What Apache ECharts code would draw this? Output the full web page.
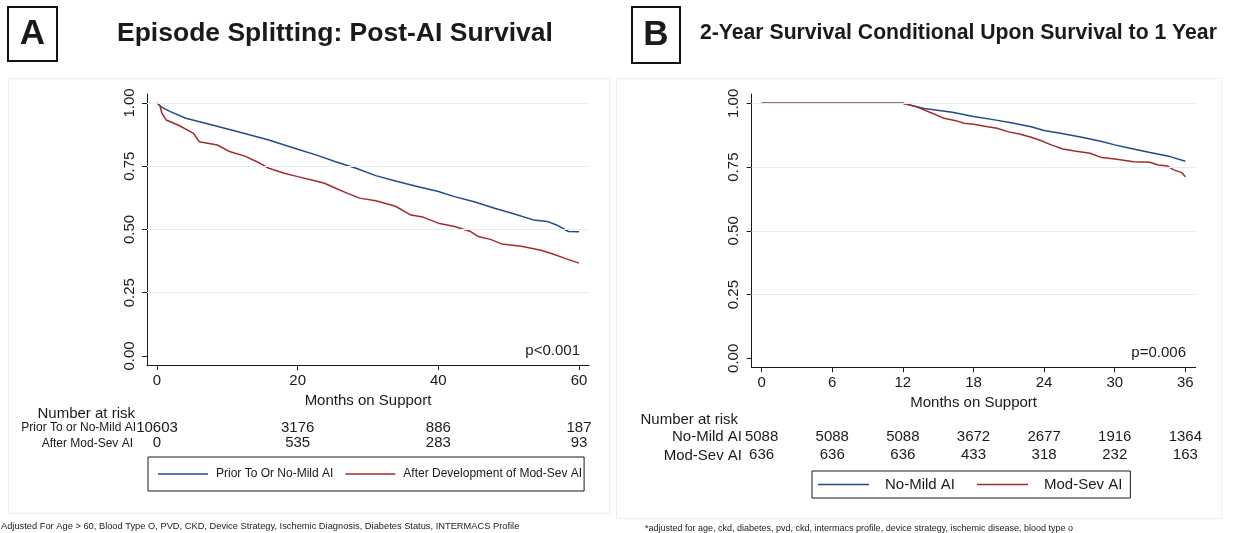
<!DOCTYPE html>
<html>
<head>
<meta charset="utf-8">
<title>AI Survival</title>
<script src="https://cdn.jsdelivr.net/npm/echarts@6/dist/echarts.min.js"></script>
<style>
  html, body { margin: 0; padding: 0; background: #ffffff; }
  #chart { width: 1236px; height: 533px; }
</style>
</head>
<body>
<div id="chart"></div>
<script>
// ---- Panel A: episode splitting, post-AI survival (months 0-60) ----
const monthsA_prior = [0, 0.7, 1.9, 4.1, 6.9, 11.4, 15.9, 20, 22.6, 25.4, 28.3, 31.1, 33.9, 36.7, 40, 42.3, 45.1, 48, 50.7, 53.5, 55.5, 56.8, 58.5, 60];
const survA_prior  = [1.00, 0.983, 0.966, 0.94, 0.92, 0.887, 0.854, 0.817, 0.795, 0.768, 0.742, 0.713, 0.692, 0.672, 0.65, 0.63, 0.61, 0.584, 0.562, 0.538, 0.532, 0.518, 0.492, 0.491];

const monthsA_after = [0, 0.4, 0.7, 1.3, 3, 5.2, 6, 8.6, 10.3, 12.5, 14.2, 15.9, 18.1, 20, 22, 23.8, 25.4, 27.1, 28.8, 31.1, 33.9, 36.1, 37.8, 40, 42.3, 44.6, 45.7, 47.4, 49, 51.8, 54.6, 56.3, 58, 60];
const survA_after  = [1.00, 0.99, 0.96, 0.933, 0.913, 0.88, 0.847, 0.834, 0.808, 0.79, 0.768, 0.742, 0.722, 0.709, 0.696, 0.683, 0.663, 0.643, 0.624, 0.614, 0.592, 0.557, 0.549, 0.525, 0.512, 0.492, 0.472, 0.461, 0.443, 0.434, 0.418, 0.403, 0.386, 0.367];

const ticksA = [0, 20, 40, 60];
const riskA_prior = [10603, 3176, 886, 187];
const riskA_after = [0, 535, 283, 93];

// ---- Panel B: 2-year survival conditional on surviving 1 year (months 0-36) ----
const monthsB_noMild = [0, 12, 13.8, 16.2, 18, 19.8, 21.2, 22.9, 24, 25.5, 27.2, 28.9, 30, 31.3, 33, 34.7, 36];
const survB_noMild   = [1.00, 1.00, 0.98, 0.965, 0.948, 0.935, 0.924, 0.908, 0.893, 0.882, 0.867, 0.85, 0.837, 0.824, 0.807, 0.791, 0.773];

const monthsB_modSev = [0, 12, 13.1, 14.5, 15.5, 16.5, 17.2, 18, 19.2, 20, 20.9, 21.9, 22.9, 23.6, 24.6, 25.6, 26.6, 27.9, 28.9, 30, 30.6, 31.6, 33, 33.7, 34.5, 35, 35.7, 36];
const survB_modSev   = [1.00, 1.00, 0.987, 0.961, 0.941, 0.932, 0.922, 0.918, 0.908, 0.902, 0.889, 0.88, 0.867, 0.856, 0.837, 0.821, 0.813, 0.804, 0.787, 0.782, 0.778, 0.771, 0.769, 0.758, 0.754, 0.739, 0.728, 0.712];

const ticksB = [0, 6, 12, 18, 24, 30, 36];
const riskB_noMild = [5088, 5088, 5088, 3672, 2677, 1916, 1364];
const riskB_modSev = [636, 636, 636, 433, 318, 232, 163];

const yTicks = [0, 0.25, 0.5, 0.75, 1.0];
const gridValues = [0.25, 0.5, 0.75, 1.0];

const FONT = '"Liberation Sans", Arial, Helvetica, sans-serif';
const BLUE = '#1f4c88';
const RED = '#a32a30';
const INK = '#1a1a1a';
const GRID_COLOR = '#e2eef2';

const pairs = (xs, ys) => xs.map((x, i) => [x, ys[i]]);

function mainX(grid, min, max, ticks) {
  return {
    gridIndex: grid, type: 'value', min: min, max: max,
    axisLine: { show: true, onZero: false, lineStyle: { color: INK, width: 1 } },
    axisTick: { show: true, length: 5, customValues: ticks, lineStyle: { color: INK } },
    axisLabel: { customValues: ticks, margin: 8, fontSize: 15, color: INK, fontFamily: FONT },
    splitLine: { show: false },
    name: 'Months on Support', nameLocation: 'middle', nameGap: 25,
    nameTextStyle: { fontSize: 15, color: INK, fontFamily: FONT }
  };
}

function riskRow(grid, min, max, ticks, counts, offset) {
  return {
    gridIndex: grid, type: 'value', min: min, max: max, position: 'bottom', offset: offset,
    axisLine: { show: false }, axisTick: { show: false }, splitLine: { show: false },
    axisLabel: {
      customValues: ticks, margin: 0, fontSize: 15, color: INK, fontFamily: FONT,
      formatter: (v) => String(counts[ticks.indexOf(v)])
    }
  };
}

function survY(grid, min, max) {
  return {
    gridIndex: grid, type: 'value', min: min, max: max,
    axisLine: { show: true, onZero: false, lineStyle: { color: INK, width: 1 } },
    axisTick: { show: true, length: 5, customValues: yTicks, lineStyle: { color: INK } },
    axisLabel: {
      customValues: yTicks, rotate: 90, margin: 10, fontSize: 15, color: INK, fontFamily: FONT,
      formatter: (v) => v.toFixed(2)
    },
    splitLine: { show: false }
  };
}

function gridLines(xi, yi) {
  return {
    type: 'line', xAxisIndex: xi, yAxisIndex: yi, data: [], z: 1, silent: true,
    markLine: {
      silent: true, symbol: 'none', label: { show: false },
      lineStyle: { color: GRID_COLOR, type: 'solid', width: 1 },
      data: gridValues.map(v => ({ yAxis: v }))
    }
  };
}

function curve(name, xi, yi, xs, ys, color) {
  return {
    name: name, type: 'line', xAxisIndex: xi, yAxisIndex: yi, data: pairs(xs, ys),
    showSymbol: false, symbol: 'none', z: 3,
    lineStyle: { color: color, width: 1.5 }, itemStyle: { color: color }
  };
}

function text(x, y, str, size, opts) {
  return Object.assign({
    type: 'text', x: x, y: y,
    style: Object.assign({ text: str, fontSize: size, fontFamily: FONT, fill: INK,
      align: 'left', verticalAlign: 'middle' }, (opts && opts.style) || {})
  }, opts && opts.el ? opts.el : {});
}

const chart = echarts.init(document.getElementById('chart'), null, { renderer: 'canvas' });

chart.setOption({
  animation: false,
  backgroundColor: '#ffffff',
  textStyle: { fontFamily: FONT },
  grid: [
    { left: 147, top: 94, width: 442, height: 271 },
    { left: 751.6, top: 94, width: 444, height: 273.3 }
  ],
  xAxis: [
    mainX(0, -1.42, 61.42, ticksA),
    riskRow(0, -1.42, 61.42, ticksA, riskA_prior, 55),
    riskRow(0, -1.42, 61.42, ticksA, riskA_after, 70.5),
    mainX(1, -0.85, 36.87, ticksB),
    riskRow(1, -0.85, 36.87, ticksB, riskB_noMild, 62),
    riskRow(1, -0.85, 36.87, ticksB, riskB_modSev, 80.5)
  ],
  yAxis: [
    survY(0, -0.0356, 1.0356),
    survY(1, -0.0353, 1.0365)
  ],
  legend: [
    {
      data: ['Prior To Or No-Mild AI', 'After Development of Mod-Sev AI'],
      left: 148, top: 457, orient: 'horizontal', selectedMode: false,
      icon: 'rect', itemWidth: 50, itemHeight: 1.6, itemGap: 12,
      padding: [11, 2, 11, 10], borderColor: INK, borderWidth: 1,
      textStyle: { fontSize: 12, color: INK, fontFamily: FONT, padding: [0, 0, 0, 3] }
    },
    {
      data: ['No-Mild AI', 'Mod-Sev AI'],
      left: 812, top: 471, orient: 'horizontal', selectedMode: false,
      icon: 'rect', itemWidth: 51, itemHeight: 1.6, itemGap: 22,
      padding: [6, 8, 6, 6], borderColor: INK, borderWidth: 1,
      textStyle: { fontSize: 15, color: INK, fontFamily: FONT, padding: [0, 0, 0, 11] }
    }
  ],
  series: [
    gridLines(0, 0),
    curve('Prior To Or No-Mild AI', 0, 0, monthsA_prior, survA_prior, BLUE),
    curve('After Development of Mod-Sev AI', 0, 0, monthsA_after, survA_after, RED),
    gridLines(3, 1),
    curve('No-Mild AI', 3, 1, monthsB_noMild, survB_noMild, BLUE),
    curve('Mod-Sev AI', 3, 1, monthsB_modSev, survB_modSev, RED)
  ],
  graphic: [
    // faint panel frames
    { type: 'rect', z: -10, shape: { x: 8.5, y: 78.5, width: 601, height: 435 },
      style: { fill: '#ffffff', stroke: '#eceff0', lineWidth: 1 } },
    { type: 'rect', z: -10, shape: { x: 616.5, y: 78.5, width: 605, height: 440 },
      style: { fill: '#ffffff', stroke: '#eceff0', lineWidth: 1 } },

    // panel letters
    { type: 'rect', shape: { x: 8, y: 7, width: 49, height: 54 },
      style: { fill: 'none', stroke: '#111', lineWidth: 2 } },
    text(32.5, 34.5, 'A', 35, { style: { align: 'center', fontWeight: 'bold' } }),
    { type: 'rect', shape: { x: 632, y: 7, width: 48, height: 56 },
      style: { fill: 'none', stroke: '#111', lineWidth: 2 } },
    text(656, 35.5, 'B', 35, { style: { align: 'center', fontWeight: 'bold' } }),

    // titles
    text(117, 34, 'Episode Splitting: Post-AI Survival', 26.5, { style: { fontWeight: 'bold' } }),
    text(700, 33, '2-Year Survival Conditional Upon Survival to 1 Year', 21.2, { style: { fontWeight: 'bold' } }),

    // p-values
    text(580, 351, 'p<0.001', 15, { style: { align: 'right' } }),
    text(1186, 353, 'p=0.006', 15, { style: { align: 'right' } }),

    // number-at-risk headings and row labels
    text(37.5, 414, 'Number at risk', 15),
    text(136, 428, 'Prior To or No-Mild AI', 12, { style: { align: 'right' } }),
    text(133, 443.5, 'After Mod-Sev AI', 12, { style: { align: 'right' } }),
    text(640.5, 420, 'Number at risk', 15),
    text(742, 437, 'No-Mild AI', 15, { style: { align: 'right' } }),
    text(742, 455.5, 'Mod-Sev AI', 15, { style: { align: 'right' } }),

    // footnotes
    text(1, 526, 'Adjusted For Age > 60, Blood Type O, PVD, CKD, Device Strategy, Ischemic Diagnosis, Diabetes Status, INTERMACS Profile', 9.3),
    text(645, 529, '*adjusted for age, ckd, diabetes, pvd, ckd, intermacs profile, device strategy, ischemic disease, blood type o', 9)
  ]
});
</script>
</body>
</html>
